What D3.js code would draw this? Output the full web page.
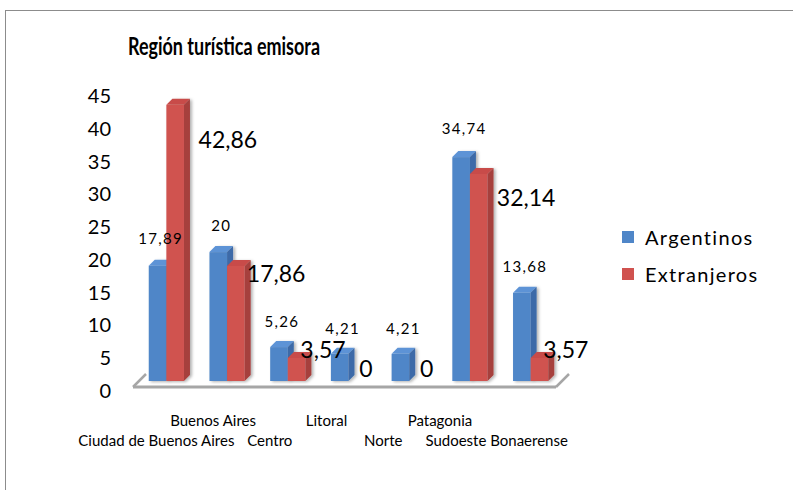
<!DOCTYPE html>
<html>
<head>
<meta charset="utf-8">
<script src="https://cdn.jsdelivr.net/npm/d3@7"></script>
<style>
  body { margin: 0; background: #fff; }
  svg { display: block; font-family: Lato, "Open Sans", sans-serif; }
</style>
</head>
<body>
<svg id="chart" width="793" height="490"></svg>
<script>
const categories = ["Ciudad de Buenos Aires", "Buenos Aires", "Centro", "Litoral", "Norte", "Patagonia", "Sudoeste Bonaerense"];
const series = ["Argentinos", "Extranjeros"];
const argentinos = [17.89, 20, 5.26, 4.21, 4.21, 34.74, 13.68];
const extranjeros = [42.86, 17.86, 3.57, 0, 0, 32.14, 3.57];
const yTicks = [0, 5, 10, 15, 20, 25, 30, 35, 40, 45];

const colors = {
  Argentinos: { front: "#4f86c8", top: "#5d93d6", side: "#3d6ba8" },
  Extranjeros: { front: "#d0524f", top: "#c84c49", side: "#a63f3c" }
};

const svg = d3.select("#chart");
const fmt = v => String(v).replace(".", ",");

// outer chart border (runs off the page on right/bottom)
svg.append("rect")
  .attr("x", 5.5).attr("y", 10.5)
  .attr("width", 820).attr("height", 520)
  .attr("fill", "none").attr("stroke", "#8c8c8c").attr("stroke-width", 1);

svg.append("text")
  .attr("x", 128).attr("y", 45)
  .attr("dominant-baseline", "central")
  .attr("font-weight", "bold").attr("font-size", 25)
  .attr("textLength", 192).attr("lengthAdjust", "spacingAndGlyphs")
  .text("Región turística emisora");

const defs = svg.append("defs");
defs.append("filter").attr("id", "shadow")
  .attr("x", "-20%").attr("y", "-20%").attr("width", "160%").attr("height", "140%")
  .append("feDropShadow")
  .attr("dx", 2).attr("dy", 1).attr("stdDeviation", 1.5)
  .attr("flood-color", "#000").attr("flood-opacity", 0.3);

// scales
const x = d3.scaleBand().domain(categories).range([136, 561]).paddingInner(0.42).paddingOuter(0.21);
const xSub = d3.scaleBand().domain(series).range([0, x.bandwidth()]);
const y = d3.scaleLinear().domain([0, 45]).range([381, 91]);
const yLabel = d3.scaleLinear().domain([0, 45]).range([390, 95]);
const xCatLabel = d3.scaleBand().domain(categories).range([128, 525]);
const yBlueLabel = d3.scaleLinear().domain([0, 45]).range([355.6, 60.8]);
const yRedLabel = d3.scaleLinear().domain([0, 45]).range([368, 128]);
const dx = 6, dy = 6;

// y tick labels
svg.append("g").selectAll("text")
  .data(yTicks).join("text")
  .attr("x", 111).attr("y", d => yLabel(d))
  .attr("text-anchor", "end").attr("dominant-baseline", "central")
  .attr("font-size", 20).attr("fill", "#000")
  .text(d => d);

// floor
const y0 = y(0);
const fl = x.range()[0] - 3, fr = x.range()[1] - 5;
const floor = svg.append("g").attr("fill", "none").attr("stroke", "#a6a6a6");
floor.append("line").attr("x1", fl).attr("x2", fr).attr("y1", y0 + 6).attr("y2", y0 + 6).attr("stroke-width", 3);
floor.append("line").attr("x1", fl).attr("y1", y0 + 6).attr("x2", fl + 13).attr("y2", y0 - 7).attr("stroke-width", 2.5);
floor.append("line").attr("x1", fr).attr("y1", y0 + 6).attr("x2", fr + 13).attr("y2", y0 - 7).attr("stroke-width", 2.5);

// bars
const bars = [];
categories.forEach((c, i) => {
  bars.push({ cat: c, s: "Argentinos", v: argentinos[i] });
  bars.push({ cat: c, s: "Extranjeros", v: extranjeros[i] });
});

const w = xSub.bandwidth();
const barG = svg.append("g").selectAll("g")
  .data(bars.filter(d => d.v > 0)).join("g")
  .attr("filter", "url(#shadow)");

barG.each(function(d) {
  const g = d3.select(this);
  const bx = x(d.cat) + xSub(d.s);
  const yt = y(d.v);
  const col = colors[d.s];
  g.append("rect").attr("x", bx).attr("y", yt).attr("width", w).attr("height", y0 - yt).attr("fill", col.front);
  g.append("path").attr("fill", col.top)
    .attr("d", `M${bx},${yt}L${bx + dx},${yt - dy}L${bx + w + dx},${yt - dy}L${bx + w},${yt}Z`);
  g.append("path").attr("fill", col.side)
    .attr("d", `M${bx + w},${yt}L${bx + w + dx},${yt - dy}L${bx + w + dx},${y0 - dy}L${bx + w},${y0}Z`);
});

// data labels
svg.append("g").selectAll("text")
  .data(categories).join("text")
  .attr("x", (c) => x(c) + xSub("Argentinos") + w / 2 + 3)
  .attr("y", (c, i) => yBlueLabel(argentinos[i]))
  .attr("text-anchor", "middle").attr("dominant-baseline", "central")
  .attr("font-size", 15).attr("letter-spacing", 1.3)
  .text((c, i) => fmt(argentinos[i]));

svg.append("g").selectAll("text")
  .data(categories).join("text")
  .attr("x", (c, i) => x(c) + xSub("Extranjeros") + w / 2 + 2 + extranjeros[i] * 0.5)
  .attr("y", (c, i) => yRedLabel(extranjeros[i]))
  .attr("text-anchor", "start").attr("dominant-baseline", "central")
  .attr("font-size", 23)
  .text((c, i) => fmt(extranjeros[i]));

// category labels (staggered)
svg.append("g").selectAll("text")
  .data(categories).join("text")
  .attr("x", c => xCatLabel(c) + xCatLabel.bandwidth() / 2)
  .attr("y", (c, i) => i % 2 ? 420 : 440)
  .attr("text-anchor", "middle").attr("dominant-baseline", "central")
  .attr("font-size", 15)
  .text(c => c);

// legend
const leg = svg.append("g").selectAll("g")
  .data(series).join("g")
  .attr("transform", (d, i) => `translate(622,${237 + i * 37})`);
leg.append("rect").attr("x", 0).attr("y", -6).attr("width", 12).attr("height", 12)
  .attr("fill", d => colors[d].front);
leg.append("text").attr("x", 23).attr("y", 0)
  .attr("dominant-baseline", "central").attr("font-size", 20).attr("letter-spacing", 1.3)
  .text(d => d);
</script>
</body>
</html>
